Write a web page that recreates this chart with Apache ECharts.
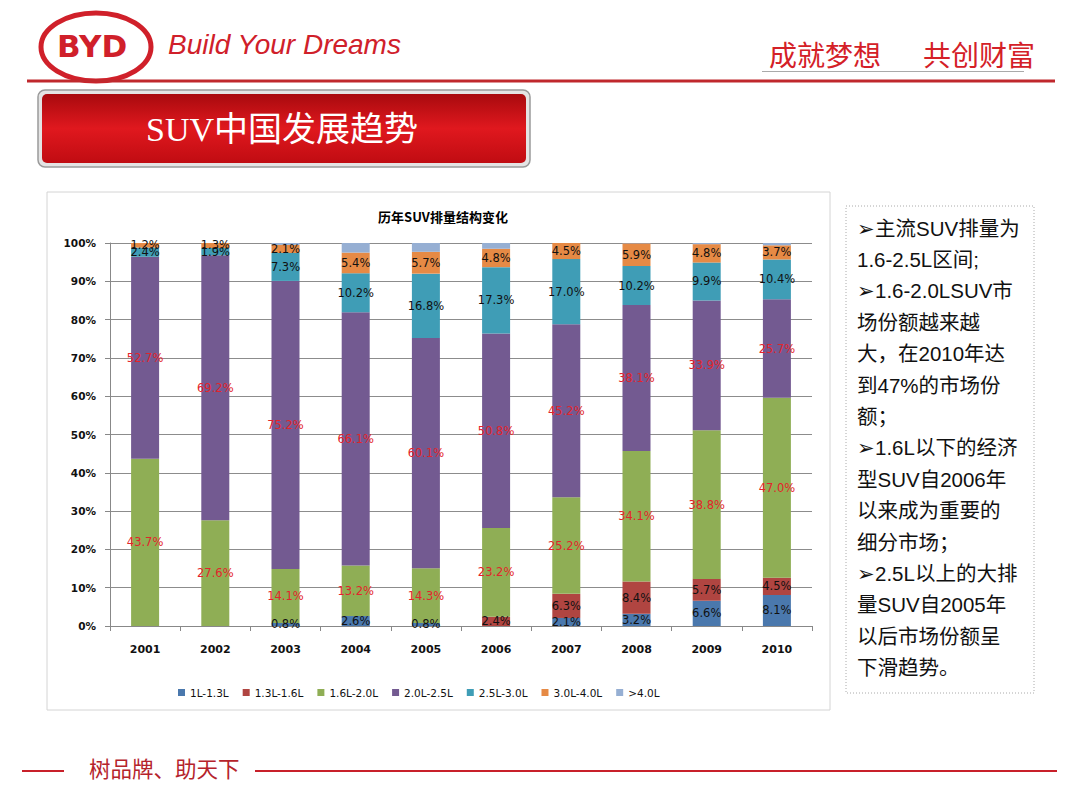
<!DOCTYPE html>
<html><head><meta charset="utf-8">
<script src="https://cdn.jsdelivr.net/npm/echarts@6/dist/echarts.min.js"></script>
<style>html,body{margin:0;padding:0;background:#fff;}#c{width:1080px;height:810px;}</style>
</head><body><div id="c"></div>
<script>
const years = ['2001','2002','2003','2004','2005','2006','2007','2008','2009','2010'];
const seriesNames = ['1L-1.3L','1.3L-1.6L','1.6L-2.0L','2.0L-2.5L','2.5L-3.0L','3.0L-4.0L','>4.0L'];
const s1 = [0, 0, 0.8, 2.6, 0.8, 0, 2.1, 3.2, 6.6, 8.1];
const s2 = [0, 0, 0, 0, 0, 2.4, 6.3, 8.4, 5.7, 4.5];
const s3 = [43.7, 27.6, 14.1, 13.2, 14.3, 23.2, 25.2, 34.1, 38.8, 47.0];
const s4 = [52.7, 69.2, 75.2, 66.1, 60.1, 50.8, 45.2, 38.1, 33.9, 25.7];
const s5 = [2.4, 1.9, 7.3, 10.2, 16.8, 17.3, 17.0, 10.2, 9.9, 10.4];
const s6 = [1.2, 1.3, 2.1, 5.4, 5.7, 4.8, 4.5, 5.9, 4.8, 3.7];
const s7 = [0, 0, 0.5, 2.5, 2.3, 1.5, 0, 0.1, 0.3, 0.6];
const yTicks = [0,10,20,30,40,50,60,70,80,90,100];
const textLines = ['➢主流SUV排量为','1.6-2.5L区间;','➢1.6-2.0LSUV市','场份额越来越','大，在2010年达','到47%的市场份','额；','➢1.6L以下的经济','型SUV自2006年','以来成为重要的','细分市场；','➢2.5L以上的大排','量SUV自2005年','以后市场份额呈','下滑趋势。'];

const allData = [s1,s2,s3,s4,s5,s6,s7];
const colors = ['#4a78ad','#b04541','#8fae55','#735a91','#3f9db6','#e68a45','#96afd3'];
const labelColors = ['#111','#111','#e3242b','#e3242b','#111','#111','#111'];

const chart = echarts.init(document.getElementById('c'), null, {renderer:'svg'});
const series = allData.map((d,i)=>({
  name: seriesNames[i], type:'bar', stack:'total', data:d, barWidth:28,
  itemStyle:{color:colors[i]},
  label:{show:i<6, position:'inside', color:labelColors[i], fontSize:11.5, fontFamily:'DejaVu Sans',
    formatter:p=> p.value>0 ? p.value.toFixed(1)+'%' : ''}
}));

const graphics = [
  {type:'rect', shape:{x:47,y:192,width:783,height:518}, style:{fill:'#fff',stroke:'#d4d4d4',lineWidth:1}, z:-10},
  {type:'ellipse', shape:{cx:96,cy:47,rx:55,ry:34}, style:{fill:'#fff',stroke:'#d0202a',lineWidth:5}},
  {type:'text', left:57, top:30, style:{text:'BYD', fill:'#d0202a', font:'bold 31px "DejaVu Sans"'}},
  {type:'text', left:168, top:30, style:{text:'Build Your Dreams', fill:'#d0202a', font:'italic 28px "Liberation Sans"'}},
  {type:'text', left:769, top:40, style:{text:'成就梦想', fill:'#d42027', font:'28px "Noto Sans CJK SC"'}},
  {type:'text', left:923, top:40, style:{text:'共创财富', fill:'#d42027', font:'28px "Noto Sans CJK SC"'}},
  {type:'line', shape:{x1:762,y1:71.5,x2:1024,y2:71.5}, style:{stroke:'#aaa',lineWidth:1}},
  {type:'line', shape:{x1:27,y1:81,x2:1055,y2:81}, style:{stroke:'#c0282d',lineWidth:3}},
  {type:'rect', shape:{x:38,y:90,width:492,height:77,r:7}, style:{fill:'#e4e4e4',stroke:'#9a9a9a',lineWidth:1.5}},
  {type:'rect', shape:{x:42,y:94,width:484,height:69,r:5}, style:{fill:{type:'linear',x:0,y:0,x2:0,y2:1,colorStops:[{offset:0,color:'#a80a0e'},{offset:0.5,color:'#e0181e'},{offset:1,color:'#c00c12'}]}}},
  {type:'text', x:282, y:129, style:{text:'SUV中国发展趋势', fill:'#fff', font:'34px "Liberation Serif","Noto Sans CJK SC"', textAlign:'center', textVerticalAlign:'middle'}},
  {type:'rect', shape:{x:846,y:206,width:188,height:487}, style:{fill:'#fff',stroke:'#aaa',lineWidth:1,lineDash:[1,2]}},
  {type:'line', shape:{x1:22,y1:771,x2:64,y2:771}, style:{stroke:'#c8202a',lineWidth:2}},
  {type:'text', left:89, top:757, style:{text:'树品牌、助天下', fill:'#b5232b', font:'21.5px "Noto Sans CJK SC"'}},
  {type:'line', shape:{x1:255,y1:771,x2:1057,y2:771}, style:{stroke:'#c8202a',lineWidth:2}}
];
textLines.forEach((t,i)=>{
  graphics.push({type:'text', x:857, y:228+i*31.4, style:{text:t, fill:'#111', font:'20.5px "Liberation Sans","Noto Sans CJK SC"', textVerticalAlign:'middle'}});
});

chart.setOption({
  animation:false,
  title:{text:'历年SUV排量结构变化', left:438, top:205, textAlign:'center',
    textStyle:{fontSize:13, fontWeight:'bold', color:'#000', fontFamily:'"Noto Sans CJK SC"'}},
  grid:{left:110, top:243, width:702, height:383, containLabel:false},
  legend:{left:173, top:682, itemWidth:7, itemHeight:7, itemGap:14, icon:'rect',
    textStyle:{fontSize:10.5, color:'#111', fontFamily:'DejaVu Sans'}, data:seriesNames},
  xAxis:{type:'category', data:years,
    axisLine:{lineStyle:{color:'#888'}}, axisTick:{show:true, length:5, lineStyle:{color:'#888'}},
    axisLabel:{fontSize:11, fontWeight:'bold', color:'#111', fontFamily:'DejaVu Sans', margin:18}},
  yAxis:{type:'value', min:0, max:100, interval:10,
    axisLine:{show:true, lineStyle:{color:'#888'}}, axisTick:{show:true, length:5, lineStyle:{color:'#888'}},
    splitLine:{lineStyle:{color:'#8c8c8c'}},
    axisLabel:{fontSize:10.5, fontWeight:'bold', color:'#111', fontFamily:'DejaVu Sans', margin:14,
      formatter:v=> yTicks.indexOf(v)>=0 ? v+'%' : ''}},
  series:series,
  graphic:graphics
});
</script></body></html>
